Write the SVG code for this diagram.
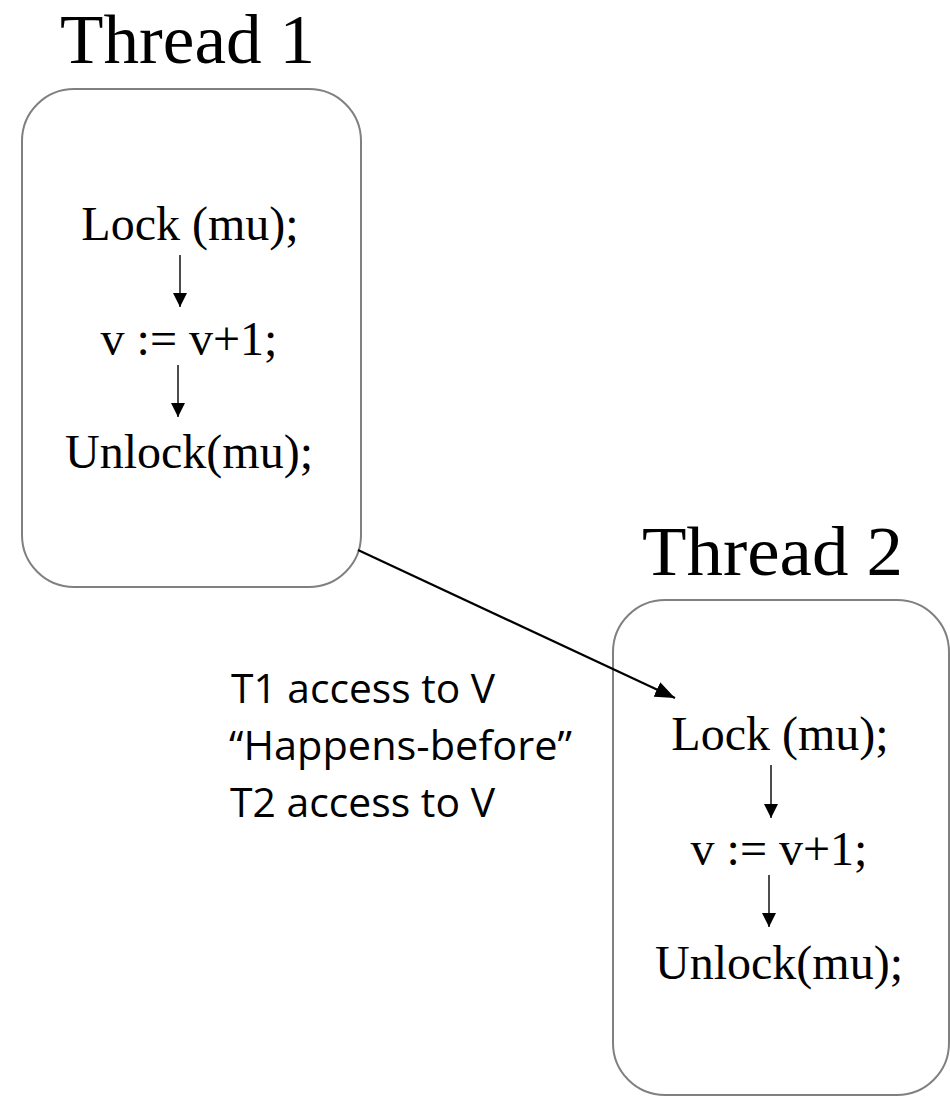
<svg xmlns="http://www.w3.org/2000/svg" width="950" height="1097" viewBox="0 0 950 1097">
  <style>
    .title { font-family: "Liberation Serif", "Times New Roman", serif; font-size: 70px; fill: #000; }
    .stmt { font-family: "Liberation Serif", "Times New Roman", serif; font-size: 48px; fill: #000; text-anchor: middle; }
    .box { fill: #fff; stroke: #808080; stroke-width: 2; }
    .step { stroke: #000; stroke-width: 1.4; fill: none; }
    .link { stroke: #000; stroke-width: 2.2; fill: none; }
    .note { font-family: "Open Sans", "Noto Sans", sans-serif; font-size: 40px; fill: #000; }
  </style>
  <defs>
    <marker id="stepHead" markerWidth="14" markerHeight="16" refX="14" refY="8" orient="auto" markerUnits="userSpaceOnUse">
      <path d="M0,1 L14,8 L0,15 Z" fill="#000"/>
    </marker>
    <marker id="linkHead" markerWidth="20" markerHeight="16" refX="20" refY="8" orient="auto" markerUnits="userSpaceOnUse">
      <path d="M0,0 L20,8 L0,16 Z" fill="#000"/>
    </marker>
  </defs>

  <!-- Thread 1 -->
  <g id="thread1">
    <text class="title" x="60" y="63" textLength="255" lengthAdjust="spacingAndGlyphs">Thread 1</text>
    <rect class="box" x="22" y="89" width="339" height="498" rx="52" ry="52"/>
    <text class="stmt" x="190" y="240">Lock (mu);</text>
    <line class="step" x1="180" y1="255" x2="180" y2="307" marker-end="url(#stepHead)"/>
    <text class="stmt" x="189" y="355">v := v+1;</text>
    <line class="step" x1="178" y1="365" x2="178" y2="417" marker-end="url(#stepHead)"/>
    <text class="stmt" x="189" y="468">Unlock(mu);</text>
  </g>

  <!-- Thread 2 -->
  <g id="thread2">
    <text class="title" x="642" y="575" textLength="261" lengthAdjust="spacingAndGlyphs">Thread 2</text>
    <rect class="box" x="613" y="600" width="336" height="495" rx="52" ry="52"/>
    <text class="stmt" x="780" y="750">Lock (mu);</text>
    <line class="step" x1="771" y1="765" x2="771" y2="818" marker-end="url(#stepHead)"/>
    <text class="stmt" x="779" y="865">v := v+1;</text>
    <line class="step" x1="769" y1="875" x2="769" y2="927" marker-end="url(#stepHead)"/>
    <text class="stmt" x="779" y="979">Unlock(mu);</text>
  </g>

  <!-- happens-before note -->
  <g id="note">
    <text class="note" x="231" y="703" textLength="264" lengthAdjust="spacingAndGlyphs">T1 access to V</text>
    <text class="note" x="229" y="760" textLength="343" lengthAdjust="spacingAndGlyphs">“Happens-before”</text>
    <text class="note" x="230" y="817" textLength="265" lengthAdjust="spacingAndGlyphs">T2 access to V</text>
  </g>

  <!-- connectors -->
  <g id="connectors">
    <line class="link" x1="358" y1="550" x2="675" y2="698" marker-end="url(#linkHead)"/>
  </g>
</svg>
